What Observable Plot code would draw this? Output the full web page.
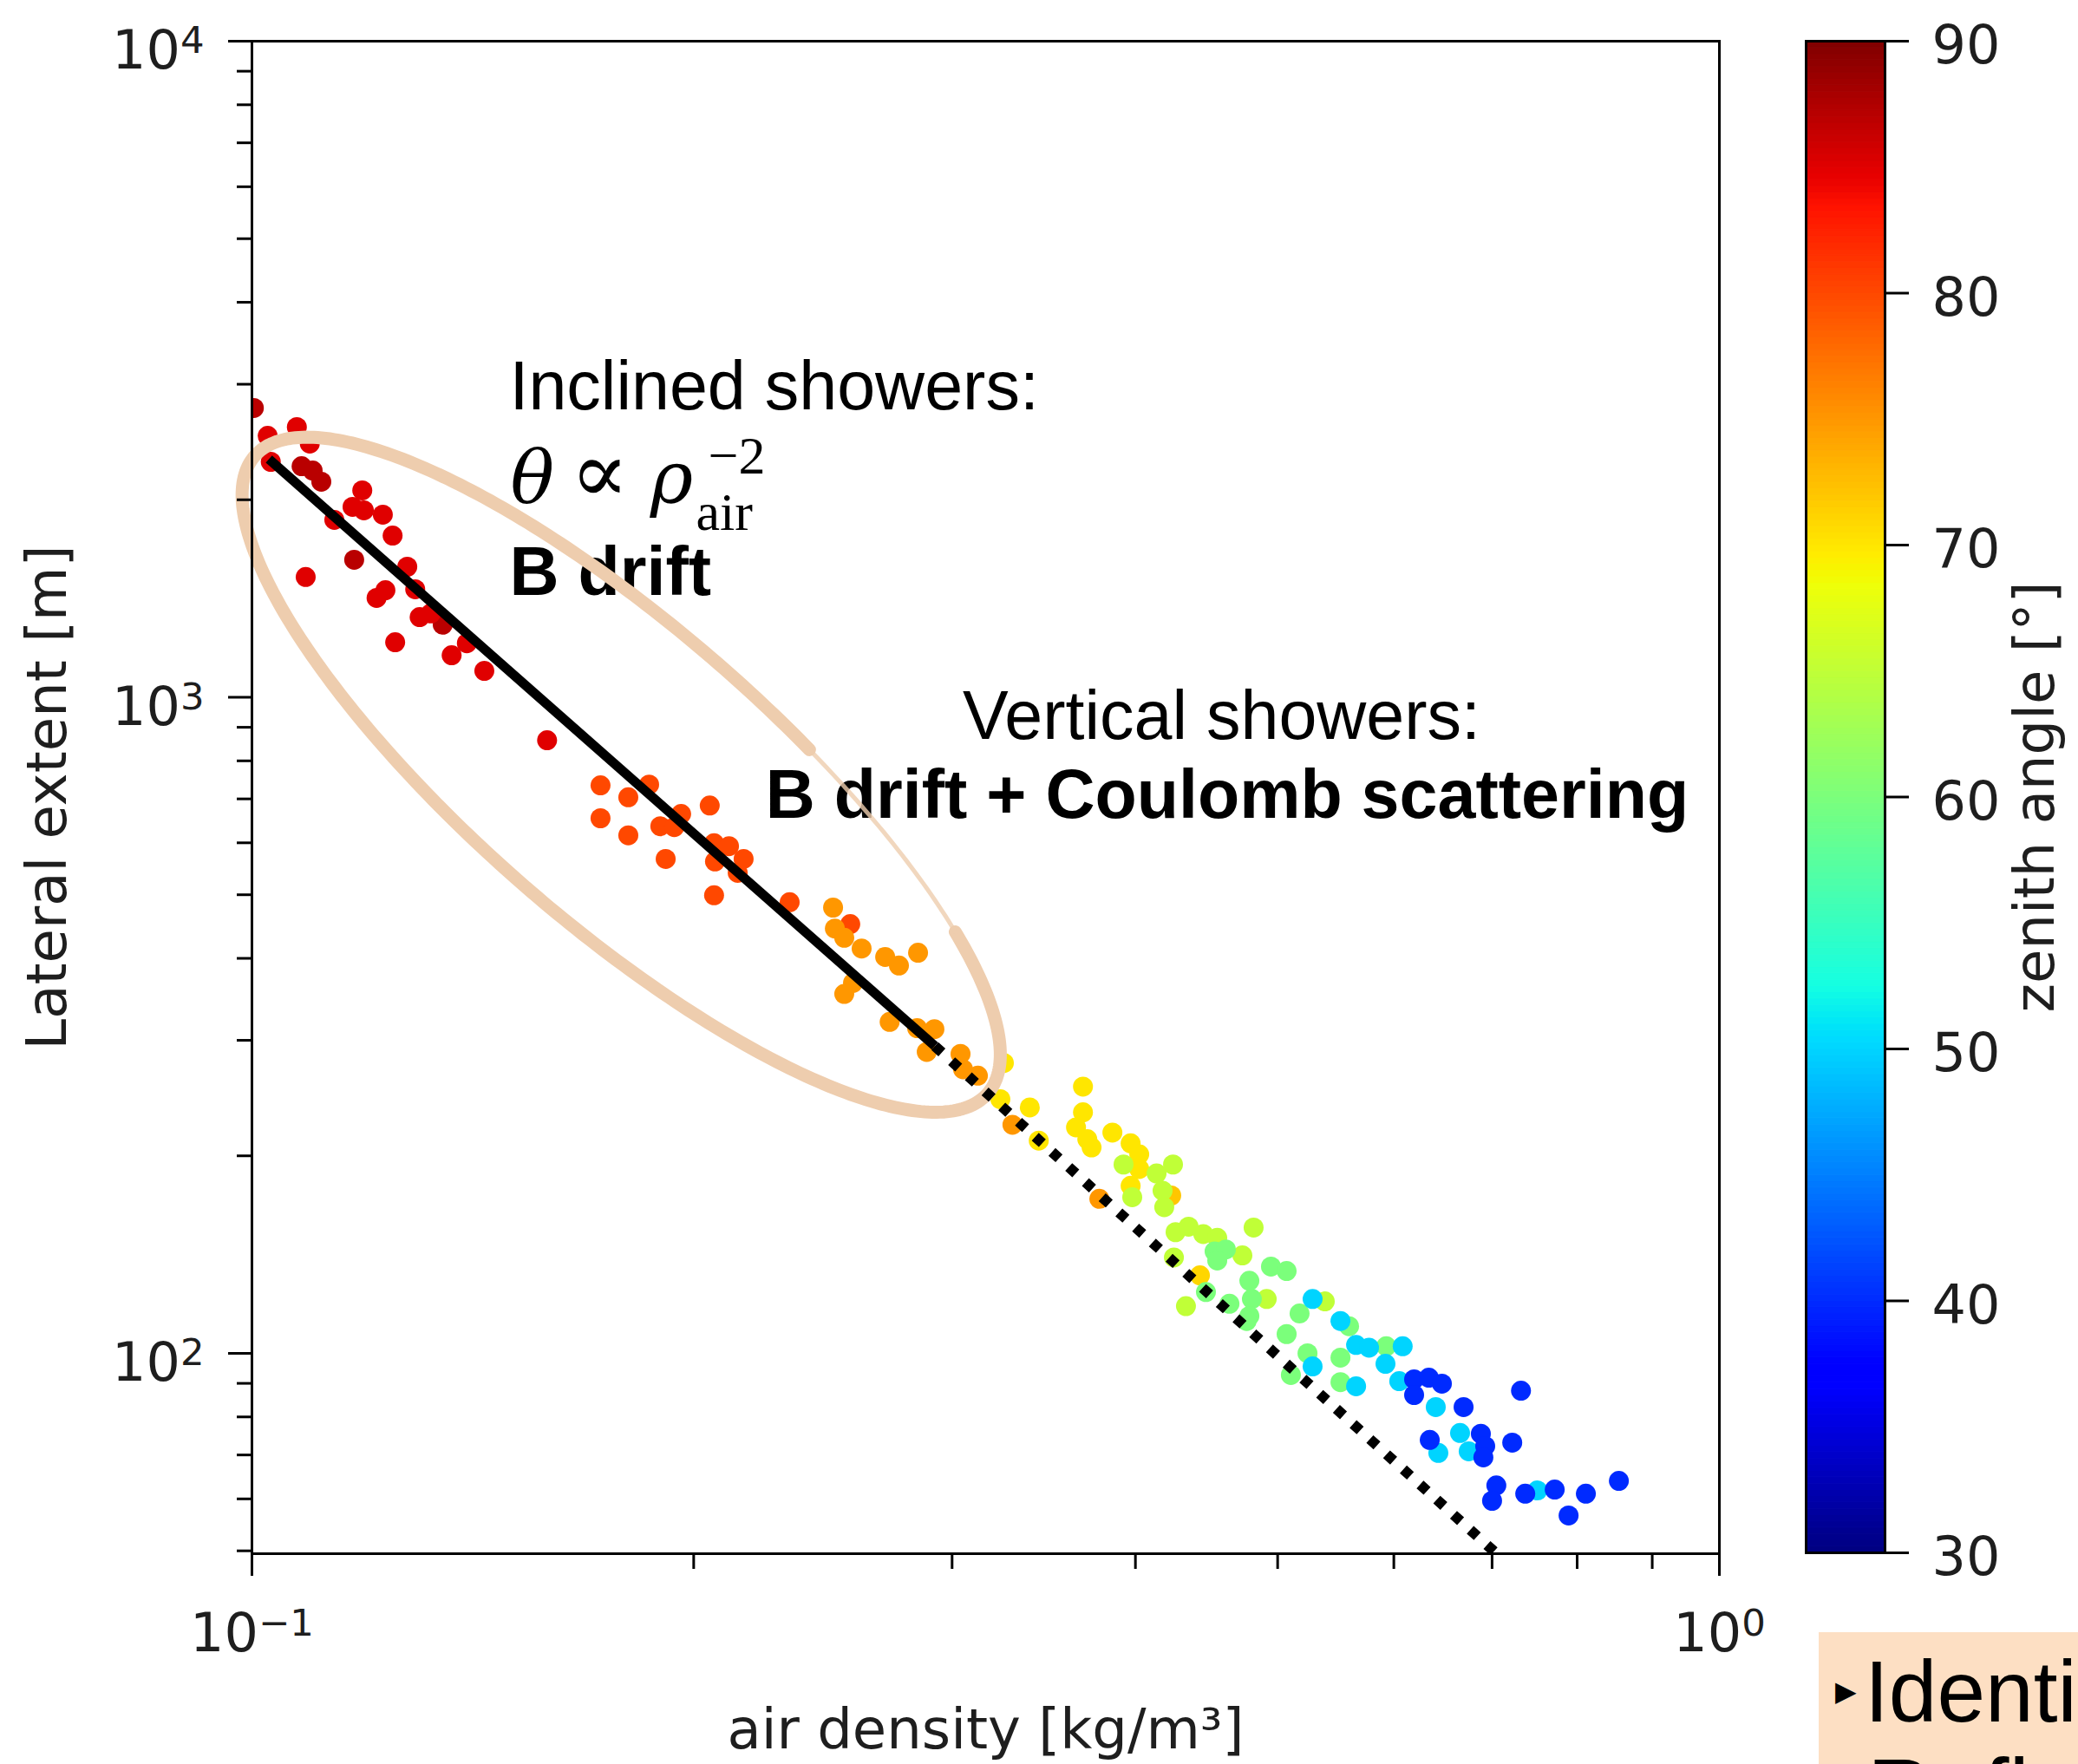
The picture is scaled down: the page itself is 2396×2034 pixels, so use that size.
<!DOCTYPE html>
<html><head><meta charset="utf-8">
<script src="https://cdn.jsdelivr.net/npm/d3@7"></script>
<script src="https://cdn.jsdelivr.net/npm/@observablehq/plot@0.6"></script>
<style>
html,body{margin:0;padding:0;background:#fff;}
#page{position:relative;width:2396px;height:2034px;overflow:hidden;background:#fff;}
#main{position:absolute;left:0;top:0;}
#cbar{position:absolute;left:2040px;top:0;}
#note{position:absolute;left:2097px;top:1882px;width:299px;height:152px;background:#FDDFC3;}
</style></head>
<body><div id="page"><div id="main"></div><div id="cbar"></div>
<div id="note"><svg width="299" height="152" style="overflow:hidden;display:block">
<text x="19" y="68" dominant-baseline="central" font-family="DejaVu Sans" font-size="32" fill="#000">▶</text>
<text x="53" y="103" font-family="Liberation Sans, Arial, sans-serif" font-size="100" fill="#000">Identi</text>
<text x="56" y="220" font-family="Liberation Sans, Arial, sans-serif" font-size="105" fill="#000">Refl</text>
</svg></div>
</div>
<script>
// ---------- data: air density [kg/m3], lateral extent [m], zenith angle [deg] ----------
const density = [
  // ~87 deg
  0.1003,0.1081,0.1100,0.1115,0.1174,0.1349,
  // ~85 deg
  0.1025,0.1073,0.1095,0.1030,0.1189,0.1171,0.1192,0.1228,0.1138,0.1247,0.1088,
  0.1276,0.1292,0.1233,0.1216,0.1301,0.1324,0.1252,0.1401,0.1368,0.1440,0.1589,
  // ~80 deg
  0.1728,0.1805,0.1865,0.1728,0.1805,0.1898,0.1961,0.1940,0.2051,0.1914,0.2065,
  0.2114,0.2068,0.2163,0.2143,0.2065,0.2325,0.2557,
  // ~75 deg
  0.2489,0.2496,0.2533,0.2603,0.2701,0.2760,0.2844,0.2568,0.2533,0.2720,0.2840,
  0.2918,0.2883,0.3040,0.3052,0.3124,0.3298,0.3780,
  // ~70 deg
  0.3254,0.3236,0.3389,0.3437,0.3684,0.3684,0.3644,0.3709,0.3734,0.3858,0.3970,
  0.4024,0.4024,0.3970,0.4231,0.4426,
  // ~65 deg
  0.3926,0.3980,0.4135,0.4243,0.4174,0.4185,0.4260,0.4348,0.4449,0.4548,0.4249,
  0.4731,0.4815,0.4330,0.4915,0.5384,
  // ~60 deg
  0.4529,0.4610,0.4548,0.4468,0.4636,0.4783,0.4802,0.4783,0.4948,0.5071,0.4763,
  0.5175,0.5071,0.5593,0.5240,0.5105,0.5518,0.5518,0.5929,
  // ~50 deg
  0.5282,0.5518,0.5282,0.5655,0.5655,0.5771,0.6084,0.5922,0.6051,0.6408,0.6434,
  0.6657,0.6748,0.7516,
  // ~40 deg
  0.6194,0.6339,0.6470,0.6194,0.6694,0.7325,0.6348,0.6878,0.6925,0.6905,0.7225,
  0.7047,0.7000,0.7374,0.7723,0.8110,0.7893,0.8541
];
const extent = [
  2760,2250,2216,2131,1620,1290,
  2503,2581,2436,2285,2067,1951,1927,1898,1864,1764,1525,
  1581,1461,1456,1417,1325,1342,1213,1209,1159,1097,860,
  734,704,736,654,616,636,664,634,684,567,599,
  593,562,567,540,499,487,451,
  478,444,430,414,402,390,408,367,353,320,313,
  312,288,286,271,265,223,172,
  277,244,237,211,255,233,221,212,206,217,209,
  201,191,180,174,131.5,
  194,173,188,194,177,167,153,156,152,150,140,
  141,155.5,118,121,120,
  143,144,138.5,124,119,129,121,114,135.6,133.5,112,
  115,107,110,100,92.7,98.5,90.4,102.5,
  121,112,95.5,89.1,103,102,102.5,96.4,90.7,82.8,70.5,
  75.6,70.9,61.8,
  91.3,91.8,89.9,86.4,82.8,87.7,73.8,75.4,72.2,69.4,73.1,
  62.9,59.6,61.1,62.0,61.1,56.6,63.9
];
const zenith = [
  87,87,87,87,87,87,
  85,85,85,85,85,85,85,85,85,85,85,
  85,85,85,85,85,85,85,85,85,85,85,
  80,80,80,80,80,80,80,80,80,80,80,
  80,80,80,80,80,80,80,
  75,75,75,75,75,75,75,75,75,75,75,
  75,75,75,75,75,75,75,
  70,70,70,70,70,70,70,70,70,70,70,
  70,70,70,72,71,
  65,65,65,65,65,65,65,65,65,65,65,
  65,65,65,65,65,
  60,60,60,60,60,60,60,60,60,60,60,
  60,60,60,60,60,60,60,60,
  50,50,50,50,50,50,50,50,50,50,50,
  50,50,50,
  40,40,40,40,40,40,40,40,40,40,40,
  40,40,40,40,40,40,40
];

// fitted power-law guide lines
const solidRho = [0.1027, 0.292];
const solidExtent = [2306, 294];
const dottedRho = [0.292, 0.705];
const dottedExtent = [294, 49.5];

// tick values
const xMajor = [0.1, 1];
const xMinor = [0.2, 0.3, 0.4, 0.5, 0.6, 0.7, 0.8, 0.9];
const yMajor = [100, 1000, 10000];
const yMinor = [50, 60, 70, 80, 90, 200, 300, 400, 500, 600, 700, 800, 900,
                2000, 3000, 4000, 5000, 6000, 7000, 8000, 9000];
const cbTicks = [30, 40, 50, 60, 70, 80, 90];

// annotation (data-space anchors)
const notesRegular = [
  {text: "Inclined showers:", x: 0.1498, y: 2743},
  {text: "Vertical showers:", x: 0.3050, y: 865}
];
const notesBold = [
  {text: "B drift", x: 0.1498, y: 1430},
  {text: "B drift + Coulomb scattering", x: 0.2239, y: 654}
];
const formulaItalic = [
  {text: "θ", x: 0.1500, y: 1981},
  {text: "ρ", x: 0.1868, y: 1981}
];
const formulaUpright = [{text: "∝", x: 0.1648, y: 1981}];
const formulaScript = [
  {text: "−2", x: 0.2046, y: 2196},
  {text: "air", x: 0.2007, y: 1802}
];
// highlight ellipse in log-log space: centre, half-axis vectors (decades), thin stretch (deg)
const ellipse = {center: [0.1785, 762], major: [0.2498, -0.4857], minor: [-0.0659, -0.1696], thinFrom: -75, thinTo: -43};

// ---------- helpers ----------
const jetR = [[0,0],[0.35,0],[0.66,1],[0.89,1],[1,0.5]];
const jetG = [[0,0],[0.125,0],[0.375,1],[0.64,1],[0.91,0],[1,0]];
const jetB = [[0,0.5],[0.11,1],[0.34,1],[0.65,0],[1,0]];
function seg(k, t) {
  for (let i = 1; i < k.length; i++) if (t <= k[i][0]) {
    const [t0, v0] = k[i-1], [t1, v1] = k[i];
    return v0 + (v1 - v0) * (t - t0) / (t1 - t0);
  }
  return k[k.length-1][1];
}
function jet(t) {
  t = Math.max(0, Math.min(1, t));
  return d3.rgb(255*seg(jetR,t), 255*seg(jetG,t), 255*seg(jetB,t)).formatHex();
}
const supMap = {"-":"⁻","0":"⁰","1":"¹","2":"²","3":"³","4":"⁴","5":"⁵","6":"⁶","7":"⁷","8":"⁸","9":"⁹"};
const fmtPow = d => "10" + String(Math.round(Math.log10(d))).split("").map(c => supMap[c]).join("");

// turn "10⁴"-style tick labels into "10" + raised smaller exponent (mathtext look)
function raiseExponents(svg) {
  const inv = {"⁻":"−","⁰":"0","¹":"1","²":"2","³":"3","⁴":"4","⁵":"5","⁶":"6","⁷":"7","⁸":"8","⁹":"9"};
  svg.querySelectorAll("text").forEach(t => {
    if (t.children.length) return;
    const m = (t.textContent || "").match(/^10([⁻⁰¹²³⁴⁵⁶⁷⁸⁹]+)$/);
    if (!m) return;
    t.textContent = "10";
    const ts = document.createElementNS("http://www.w3.org/2000/svg", "tspan");
    ts.setAttribute("dy", "-18");
    ts.setAttribute("font-size", "43.4");
    ts.textContent = m[1].split("").map(c => inv[c]).join("");
    t.appendChild(ts);
  });
}

const points = density.map((d, i) => ({density: d, extent: extent[i], zenith: zenith[i]}));
const solid = solidRho.map((d, i) => [d, solidExtent[i]]);
const dotted = dottedRho.map((d, i) => [d, dottedExtent[i]]);
function ellPts(a0, a1) {
  return d3.range(a0, a1 + 0.001, 1).map(deg => {
    const t = deg * Math.PI / 180, c = Math.cos(t), s = Math.sin(t);
    const lx = Math.log10(ellipse.center[0]) + c * ellipse.major[0] + s * ellipse.minor[0];
    const ly = Math.log10(ellipse.center[1]) + c * ellipse.major[1] + s * ellipse.minor[1];
    return [10 ** lx, 10 ** ly];
  });
}
const ellThick = ellPts(ellipse.thinTo, ellipse.thinFrom + 360);
const ellThin = ellPts(ellipse.thinFrom, ellipse.thinTo);

const colorOpts = {type: "linear", domain: [30, 90], interpolate: jet};
const txt = "#1e1e1e";
const sans = "Liberation Sans, Arial, sans-serif";
const serif = "Liberation Serif, DejaVu Serif, serif";

const main = Plot.plot({
  width: 2060, height: 2034,
  marginLeft: 290, marginRight: 78, marginTop: 47, marginBottom: 243,
  x: {type: "log", domain: [0.1, 1]},
  y: {type: "log", domain: [49.5, 10000]},
  color: colorOpts,
  style: {fontFamily: "DejaVu Sans", fontSize: "62px", color: txt, background: "white", overflow: "visible"},
  marks: [
    Plot.dot(points, {x: "density", y: "extent", fill: "zenith", r: 11.5, clip: true}),
    Plot.text(notesRegular, {x: "x", y: "y", text: "text", textAnchor: "start", lineAnchor: "bottom", fontSize: 79, fontFamily: sans, fill: "#000"}),
    Plot.text(notesBold, {x: "x", y: "y", text: "text", textAnchor: "start", lineAnchor: "bottom", fontSize: 79, fontWeight: "bold", fontFamily: sans, fill: "#000"}),
    Plot.text(formulaItalic, {x: "x", y: "y", text: "text", textAnchor: "start", lineAnchor: "bottom", fontSize: 84, fontStyle: "italic", fontFamily: "DejaVu Serif, serif", fill: "#000"}),
    Plot.text(formulaUpright, {x: "x", y: "y", text: "text", textAnchor: "start", lineAnchor: "bottom", fontSize: 100, fontFamily: "DejaVu Serif, serif", fill: "#000"}),
    Plot.text(formulaScript, {x: "x", y: "y", text: "text", textAnchor: "start", lineAnchor: "bottom", fontSize: 62, fontFamily: serif, fill: "#000"}),
    Plot.line(ellThick, {stroke: "#EECDAE", strokeWidth: 15, strokeLinecap: "round", strokeLinejoin: "round"}),
    Plot.line(ellThin, {stroke: "#EECDAE", strokeWidth: 5, strokeOpacity: 0.8}),
    Plot.line(solid, {stroke: "#000", strokeWidth: 11, strokeLinecap: "butt"}),
    Plot.line(dotted, {stroke: "#000", strokeWidth: 12, strokeDasharray: "11,15", strokeLinecap: "butt", clip: true}),
    Plot.frame({stroke: "#000", strokeWidth: 3}),
    Plot.axisX(xMajor, {tickSize: 26, fill: "none", strokeWidth: 3, stroke: "#000", label: null}),
    Plot.axisX(xMinor, {tickSize: 18, fill: "none", strokeWidth: 3, stroke: "#000", label: null}),
    Plot.axisX(xMajor, {tickSize: 26, tickPadding: 42, stroke: "none", fill: txt, tickFormat: fmtPow, fontSize: 62, label: null}),
    Plot.axisY(yMajor, {tickSize: 27, fill: "none", strokeWidth: 3, stroke: "#000", label: null}),
    Plot.axisY(yMinor, {tickSize: 17, fill: "none", strokeWidth: 3, stroke: "#000", label: null}),
    Plot.axisY(yMajor, {tickSize: 27, tickPadding: 28, stroke: "none", fill: txt, tickFormat: fmtPow, fontSize: 62, dy: 12, label: null}),
    Plot.text(["air density [kg/m³]"], {frameAnchor: "bottom", text: d => d, textAnchor: "middle", lineAnchor: "bottom", dy: 224, fontSize: 64, fill: txt}),
    Plot.text(["Lateral extent [m]"], {frameAnchor: "left", text: d => d, textAnchor: "middle", lineAnchor: "middle", rotate: -90, dx: -235, fontSize: 64, fill: txt})
  ]
});
raiseExponents(main);
document.getElementById("main").appendChild(main);

const cbStep = 0.25;
const cbSteps = d3.range(30, 90, cbStep);
const cbar = Plot.plot({
  width: 356, height: 2034,
  marginLeft: 42, marginRight: 223, marginTop: 47, marginBottom: 244,
  y: {domain: [30, 90]},
  color: colorOpts,
  style: {fontFamily: "DejaVu Sans", fontSize: "62px", color: txt, background: "transparent", overflow: "visible"},
  marks: [
    Plot.rect(cbSteps, {y1: d => d, y2: d => d + cbStep, fill: d => d + cbStep / 2, stroke: d => d + cbStep / 2, strokeWidth: 1}),
    Plot.frame({stroke: "#000", strokeWidth: 3}),
    Plot.axisY(cbTicks, {anchor: "right", tickSize: 27, fill: "none", strokeWidth: 3, stroke: "#000", label: null}),
    Plot.axisY(cbTicks, {anchor: "right", tickSize: 27, tickPadding: 27, stroke: "none", fill: txt, fontSize: 62, dy: 6, label: null}),
    Plot.text(["zenith angle [°]"], {frameAnchor: "right", text: d => d, textAnchor: "middle", lineAnchor: "middle", rotate: -90, dx: 174, fontSize: 64, fill: txt})
  ]
});
document.getElementById("cbar").appendChild(cbar);
</script>
</body></html>
